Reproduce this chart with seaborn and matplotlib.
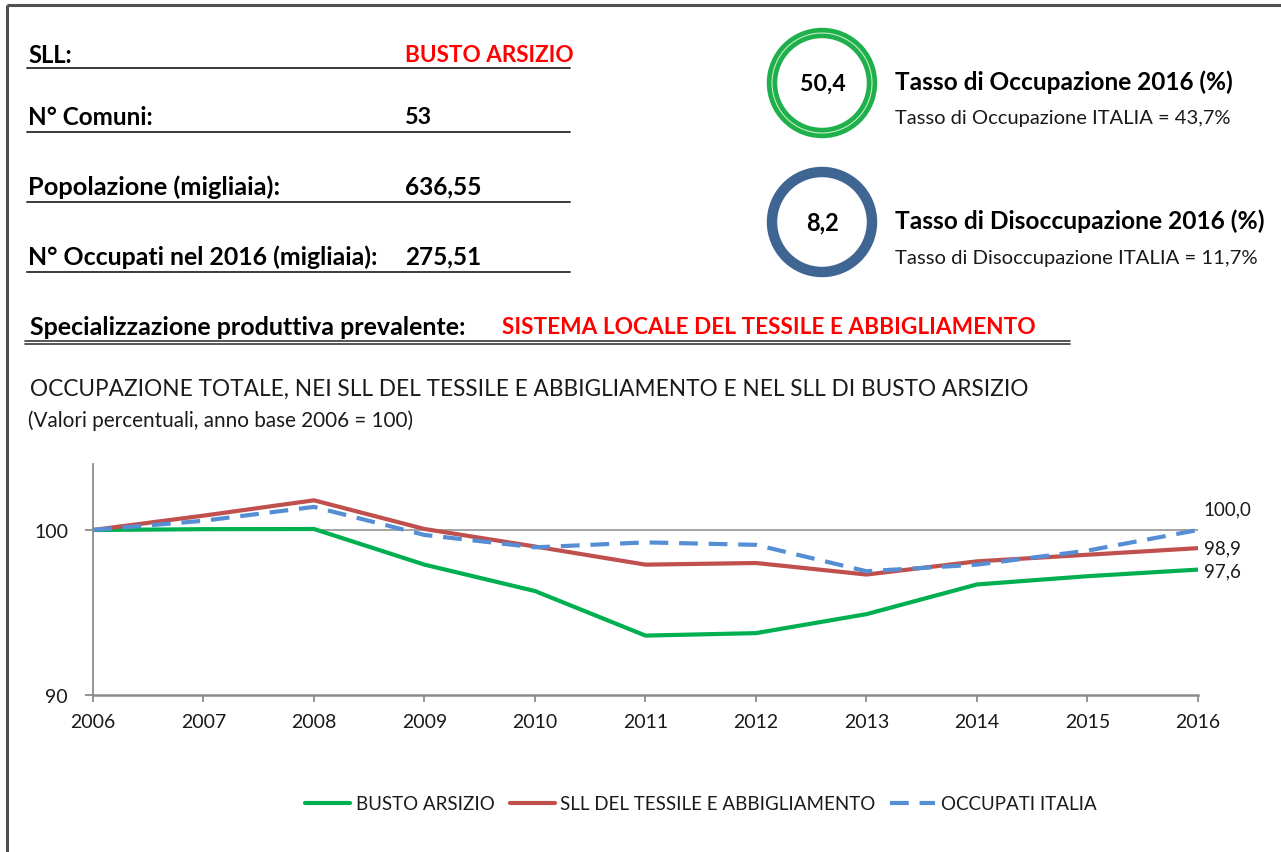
import matplotlib
matplotlib.use("Agg")
import matplotlib.pyplot as plt
import seaborn as sns
import pandas as pd
from matplotlib.patches import Circle
from matplotlib.lines import Line2D

# ---------------- data ----------------
years = [2006, 2007, 2008, 2009, 2010, 2011, 2012, 2013, 2014, 2015, 2016]
busto = [100.0, 100.05, 100.06, 97.9, 96.3, 93.6, 93.75, 94.9, 96.7, 97.2, 97.6]
tessile = [100.0, 100.87, 101.8, 100.06, 99.0, 97.9, 98.0, 97.3, 98.1, 98.5, 98.9]
italia = [100.0, 100.56, 101.4, 99.7, 98.95, 99.25, 99.1, 97.5, 97.9, 98.75, 100.0]
series_names = ["BUSTO ARSIZIO", "SLL DEL TESSILE E ABBIGLIAMENTO", "OCCUPATI ITALIA"]
end_labels = ["97,6", "98,9", "100,0"]
y_ticks = [90, 100]

info_labels = ["SLL:", "N° Comuni:", "Popolazione (migliaia):", "N° Occupati nel 2016 (migliaia):"]
info_values = ["BUSTO ARSIZIO", "53", "636,55", "275,51"]
kpi_values = ["50,4", "8,2"]
kpi_titles = ["Tasso di Occupazione 2016 (%)", "Tasso di Disoccupazione 2016 (%)"]
kpi_subtitles = ["Tasso di Occupazione ITALIA = 43,7%", "Tasso di Disoccupazione ITALIA = 11,7%"]
spec_label = "Specializzazione produttiva prevalente:"
spec_value = "SISTEMA LOCALE DEL TESSILE E ABBIGLIAMENTO"
chart_title = "OCCUPAZIONE TOTALE, NEI SLL DEL TESSILE E ABBIGLIAMENTO E NEL SLL DI BUSTO ARSIZIO"
chart_subtitle = "(Valori percentuali, anno base 2006 = 100)"

# ---------------- style ----------------
sns.set_theme(style="white")
FONT = ["Lato", "DejaVu Sans"]
plt.rcParams["font.family"] = FONT

W, H = 1281, 853
fig = plt.figure(figsize=(W / 100, H / 100), dpi=100)
fig.patch.set_facecolor("white")

# background pixel-coordinate axes
bg = fig.add_axes([0, 0, 1, 1], zorder=0)
bg.set_xlim(0, W)
bg.set_ylim(H, 0)
bg.axis("off")

renderer = fig.canvas.get_renderer()


def fit_text(x, y, s, width, size=14, ha="left", **kw):
    t = bg.text(x, y, s, fontsize=size, va="center", ha=ha, **kw)
    w = t.get_window_extent(renderer).width
    t.set_fontsize(size * width / w)
    return t


# border
bg.plot([7, W], [6, 6], color="#505050", lw=2.2, solid_capstyle="butt")
bg.plot([7, 7], [6, H], color="#505050", lw=2.2, solid_capstyle="butt")

# info table
row_y = [55, 117, 187, 257]
line_y = [69, 133, 203, 273]
label_w = [44, 125, 253, 352]
value_w = [170, 27, 77, 76]
for i in range(4):
    fit_text(28, row_y[i], info_labels[i], label_w[i], fontweight="bold", color="black")
    fit_text(405, row_y[i], info_values[i], value_w[i], fontweight="bold",
             color="#FF0000" if i == 0 else "black")
    bg.plot([27, 570], [line_y[i], line_y[i]], color="#3a3a3a", lw=1.4)

# KPI circles
circ_y = [84, 223]
ring_col = ["#1DB04B", "#3F6593"]
num_w = [46, 33]
for i in range(2):
    bg.add_patch(Circle((822, circ_y[i]), 50, fill=False, ec=ring_col[i], lw=7.5))
    if i == 0:
        bg.add_patch(Circle((822, circ_y[i]), 50, fill=False, ec="#C8EBC8", lw=0.8))
    fit_text(823, circ_y[i], kpi_values[i], num_w[i], ha="center",
             fontweight="bold", color="black")
kpi_title_w = [338, 370]
kpi_sub_w = [337, 363]
kpi_title_y = [82, 221]
kpi_sub_y = [118, 258]
for i in range(2):
    fit_text(895, kpi_title_y[i], kpi_titles[i], kpi_title_w[i], fontweight="bold", color="black")
    fit_text(895, kpi_sub_y[i], kpi_subtitles[i], kpi_sub_w[i], color="#1a1a1a")

# specialization
fit_text(30, 327, spec_label, 438, fontweight="bold", color="black")
fit_text(502, 327, spec_value, 536, fontweight="bold", color="#FF0000")
bg.plot([25, 1070], [342, 342], color="#3a3a3a", lw=1.2)
bg.plot([25, 1070], [345, 345], color="#3a3a3a", lw=1.2)

# chart titles
fit_text(30, 389, chart_title, 995, color="#1a1a1a")
fit_text(28, 421, chart_subtitle, 385, color="#1a1a1a")

# ---------------- line chart ----------------
ax_left, ax_right, ax_top, ax_bottom = 93, 1198, 465, 696
ax = fig.add_axes([ax_left / W, 1 - ax_bottom / H, (ax_right - ax_left) / W, (ax_bottom - ax_top) / H],
                  zorder=2)
ax.patch.set_alpha(0)

df = pd.DataFrame({
    "year": years * 3,
    "value": busto + tessile + italia,
    "series": [series_names[0]] * len(years) + [series_names[1]] * len(years) + [series_names[2]] * len(years),
})
palette = {series_names[0]: "#00B050", series_names[1]: "#C0504D", series_names[2]: "#558ED5"}
DASH = (4.5, 2.6)
dashes = {series_names[0]: "", series_names[1]: "", series_names[2]: DASH}

ax.axhline(100, color="#8C8C8C", lw=1.1, zorder=1)
sns.lineplot(data=df, x="year", y="value", hue="series", style="series",
             palette=palette, dashes=dashes, linewidth=3, ax=ax, legend=False,
             hue_order=series_names, style_order=series_names, zorder=3)

ax.set_xlim(years[0], years[-1])
ax.set_ylim(90, 104)
ax.set_xticks(years)
ax.set_xticklabels([str(y) for y in years])
ax.set_yticks(y_ticks)
ax.set_yticklabels([str(v) for v in y_ticks])
ax.set_xlabel("")
ax.set_ylabel("")
for s in ["top", "right"]:
    ax.spines[s].set_visible(False)
ax.spines["left"].set_color("#8C8C8C")
ax.spines["left"].set_linewidth(1.3)
ax.spines["bottom"].set_color("#8C8C8C")
ax.spines["bottom"].set_linewidth(1.8)
ax.tick_params(axis="x", direction="out", length=5, width=1.3, color="#8C8C8C",
               pad=8, labelsize=14, labelcolor="#1a1a1a", bottom=True)
ax.tick_params(axis="y", direction="out", length=6, width=1.3, color="#8C8C8C",
               pad=12, labelsize=14, labelcolor="#1a1a1a", left=True)

# end labels
end_vals = [busto[-1], tessile[-1], italia[-1]]
end_offsets = [-1, 0, 15]
for v, lab, off in zip(end_vals, end_labels, end_offsets):
    ax.annotate(lab, xy=(years[-1], v), xytext=(4, off), textcoords="offset points",
                ha="left", va="center", fontsize=13.5, color="#1a1a1a", annotation_clip=False)

# legend
handles = [
    Line2D([], [], color=palette[series_names[0]], lw=3),
    Line2D([], [], color=palette[series_names[1]], lw=3),
    Line2D([], [], color=palette[series_names[2]], lw=3, dashes=DASH),
]
fig.legend(handles, series_names, loc="center", bbox_to_anchor=(701 / W, 1 - 805 / H),
           ncol=3, frameon=False, fontsize=13.5, handlelength=2.4, handletextpad=0.3,
           columnspacing=0.8, labelcolor="#1a1a1a")

fig.savefig("out.png", dpi=100, facecolor="white")
